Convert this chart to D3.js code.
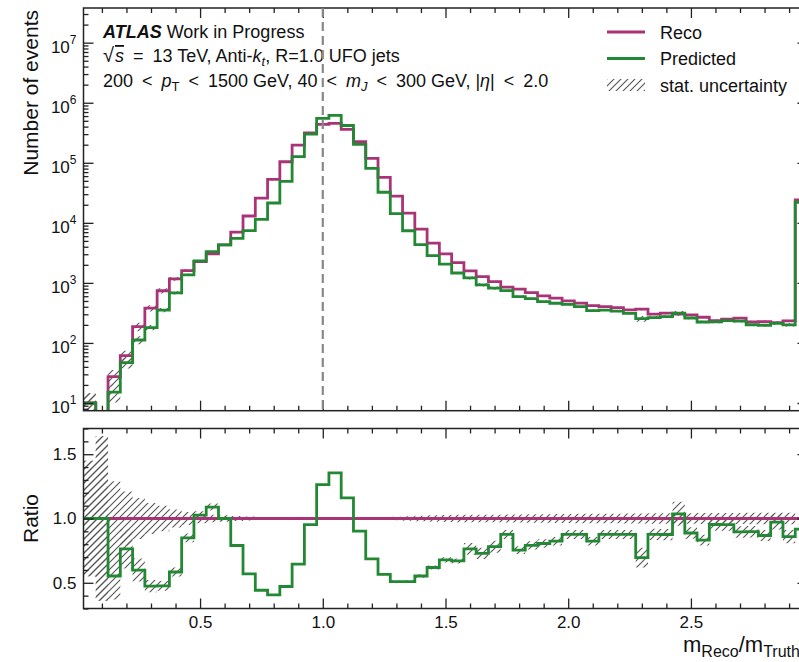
<!DOCTYPE html>
<html>
<head>
<meta charset="utf-8">
<title></title>
<style>
  body { margin: 0; background: #fff; }
  svg { display: block; font-family: "Liberation Sans", Arial, sans-serif; }
</style>
</head>
<body>
<div id="chart"></div>
<script src="https://cdn.jsdelivr.net/npm/d3@7"></script>
<script>
// bin centres of m_reco / m_truth, width 0.05 (last bin holds the overflow)
const binCentres = [0.05, 0.10, 0.15, 0.20, 0.25, 0.30, 0.35, 0.40, 0.45, 0.50,
    0.55, 0.60, 0.65, 0.70, 0.75, 0.80, 0.85, 0.90, 0.95, 1.00,
    1.05, 1.10, 1.15, 1.20, 1.25, 1.30, 1.35, 1.40, 1.45, 1.50,
    1.55, 1.60, 1.65, 1.70, 1.75, 1.80, 1.85, 1.90, 1.95, 2.00,
    2.05, 2.10, 2.15, 2.20, 2.25, 2.30, 2.35, 2.40, 2.45, 2.50,
    2.55, 2.60, 2.65, 2.70, 2.75, 2.80, 2.85, 2.90, 2.95]
const binWidth = 0.05

// number of events per bin
const reco = [10, 4, 27.5, 61.5, 187, 380, 740, 1170, 1600, 2265,
    3040, 4300, 7000, 13000, 25800, 52800, 104000, 197000, 316000, 436000,
    454000, 360000, 224000, 118000, 57100, 27900, 14500, 7850, 4590, 3040,
    2180, 1585, 1275, 1050, 848, 785, 689, 607, 556, 501,
    459, 419, 403, 387, 355, 365, 301, 313, 301, 293,
    268, 235, 248, 258, 224, 227, 218, 233, 24000]
const predicted = [10, 4, 15.2, 47, 112, 180, 352, 683, 1360, 2325,
    3310, 4300, 5530, 7400, 11400, 21400, 49000, 127000, 301000, 551000,
    615000, 418000, 202000, 81000, 32300, 14200, 7380, 4340, 2840, 2060,
    1460, 1210, 930, 820, 743, 592, 545, 489, 458, 439,
    402, 345, 353, 339, 311, 254, 264, 274, 312, 260,
    223, 224, 236, 231, 201, 197, 212, 200, 22000]

// relative stat. uncertainties
const recoErr = [0.45, 0.64, 0.29, 0.21, 0.16, 0.12, 0.10, 0.07, 0.05, 0.036,
    0.03, 0.026, 0.02, 0.015, 0.01, 0.008, 0.006, 0.005, 0.005, 0.005,
    0.005, 0.005, 0.006, 0.008, 0.01, 0.014, 0.018, 0.022, 0.025, 0.028,
    0.03, 0.03, 0.03, 0.03, 0.032, 0.032, 0.034, 0.034, 0.035, 0.035,
    0.036, 0.036, 0.037, 0.037, 0.038, 0.038, 0.04, 0.04, 0.04, 0.04,
    0.042, 0.042, 0.042, 0.043, 0.044, 0.044, 0.045, 0.045, 0.008]
const predErr = [0.45, 0.64, 0.33, 0.2, 0.15, 0.1, 0.08, 0.06, 0.04, 0.03,
    0.025, 0.02, 0.015, 0.012, 0.01, 0.01, 0.008, 0.006, 0.005, 0.005,
    0.005, 0.005, 0.006, 0.01, 0.012, 0.016, 0.02, 0.025, 0.025, 0.03,
    0.03, 0.06, 0.06, 0.06, 0.04, 0.04, 0.04, 0.04, 0.04, 0.04,
    0.04, 0.04, 0.04, 0.04, 0.04, 0.11, 0.05, 0.05, 0.09, 0.05,
    0.05, 0.05, 0.05, 0.05, 0.05, 0.05, 0.06, 0.06, 0.01]

const xTicks = [0.5, 1.0, 1.5, 2.0, 2.5]
const ratioTicks = [0.5, 1.0, 1.5]

const recoColor = '#AA3377', predColor = '#228833'

const width = 799, height = 662
const svg = d3.select('#chart').append('svg')
    .attr('width', width)
    .attr('height', height)

// scales
const x = d3.scaleLinear().domain([0.025, 2.975]).range([83.5, 807.5])
const y = d3.scaleLog().domain([7.44, 3.78e7]).range([410.7, 8])
const yr = d3.scaleLinear().domain([0.3, 1.7]).range([608.5, 428.5])

const edges = binCentres.map(c => c - binWidth / 2).concat(binCentres[binCentres.length - 1] + binWidth / 2)
const ratio = predicted.map((v, i) => v / reco[i])

// hatch pattern for stat. uncertainty
const defs = svg.append('defs')
defs.append('pattern')
    .attr('id', 'hatch')
    .attr('patternUnits', 'userSpaceOnUse')
    .attr('width', 7).attr('height', 7)
  .append('path')
    .attr('d', 'M-1,1 l2,-2 M0,7 l7,-7 M6,8 l2,-2')
    .attr('stroke', '#555').attr('stroke-width', 1.1)
defs.append('clipPath').attr('id', 'clipTop')
  .append('rect').attr('x', 83.5).attr('y', 8).attr('width', 724).attr('height', 402.7)
defs.append('clipPath').attr('id', 'clipRatio')
  .append('rect').attr('x', 83.5).attr('y', 428.5).attr('width', 724).attr('height', 180)

// step helpers
function stepLine(values, ys) {
    const pts = values.map((v, i) => [edges[i], v]).concat([[edges[values.length], values[values.length - 1]]])
    return d3.line().x(d => x(d[0])).y(d => ys(d[1])).curve(d3.curveStepAfter)(pts)
}
function stepBand(lo, hi, ys) {
    const pts = lo.map((v, i) => [edges[i], v, hi[i]]).concat([[edges[lo.length], lo[lo.length - 1], hi[hi.length - 1]]])
    return d3.area().x(d => x(d[0])).y0(d => ys(d[1])).y1(d => ys(d[2])).curve(d3.curveStepAfter)(pts)
}

// top panel
const topPanel = svg.append('g').attr('clip-path', 'url(#clipTop)')
topPanel.append('path').attr('d', stepBand(reco.map((v, i) => v * (1 - recoErr[i])), reco.map((v, i) => v * (1 + recoErr[i])), y))
    .attr('fill', 'url(#hatch)')
topPanel.append('path').attr('d', stepBand(predicted.map((v, i) => v * (1 - predErr[i])), predicted.map((v, i) => v * (1 + predErr[i])), y))
    .attr('fill', 'url(#hatch)')
topPanel.append('path').attr('d', stepLine(reco, y))
    .attr('fill', 'none').attr('stroke', recoColor).attr('stroke-width', 2.8)
topPanel.append('path').attr('d', stepLine(predicted, y))
    .attr('fill', 'none').attr('stroke', predColor).attr('stroke-width', 2.8)

// ratio panel
const ratioPanel = svg.append('g').attr('clip-path', 'url(#clipRatio)')
ratioPanel.append('path').attr('d', stepBand(recoErr.map(e => 1 - e), recoErr.map(e => 1 + e), yr))
    .attr('fill', 'url(#hatch)')
ratioPanel.append('path').attr('d', stepBand(ratio.map((r, i) => r * (1 - predErr[i])), ratio.map((r, i) => r * (1 + predErr[i])), yr))
    .attr('fill', 'url(#hatch)')
ratioPanel.append('line')
    .attr('x1', x.range()[0]).attr('x2', x.range()[1])
    .attr('y1', yr(1)).attr('y2', yr(1))
    .attr('stroke', recoColor).attr('stroke-width', 2.8)
ratioPanel.append('path').attr('d', stepLine(ratio, yr))
    .attr('fill', 'none').attr('stroke', predColor).attr('stroke-width', 2.8)

// axes: ticks point inwards on all four sides
function addAxis(axisFn, scale, values, size, fmt, transform) {
    const a = axisFn(scale).tickValues(values).tickSize(-size).tickSizeOuter(0).tickPadding(7)
    a.tickFormat(fmt || (() => ''))
    const g = svg.append('g').attr('transform', transform).call(a)
    g.attr('font-family', null).attr('font-size', 17)
    g.select('.domain').remove()
    g.selectAll('line').attr('stroke', '#222').attr('stroke-width', 1.3)
    g.selectAll('text').attr('fill', '#111')
    return g
}

const isMajor = d => Math.abs(Math.log10(d) - Math.round(Math.log10(d))) < 1e-9
const logMajor = y.ticks().filter(isMajor)
const logMinor = y.ticks().filter(d => !isMajor(d))
const xMinor = x.ticks(30).filter(d => !xTicks.some(t => Math.abs(t - d) < 1e-9))
const rMinor = yr.ticks(14).filter(d => !ratioTicks.some(t => Math.abs(t - d) < 1e-9))

// top panel axes
const yAxis = addAxis(d3.axisLeft, y, logMajor, 10, d => '10', 'translate(83.5,0)')
yAxis.selectAll('text').attr('dy', '0.55em')
    .append('tspan').attr('dy', '-0.7em').attr('font-size', 12).text(d => Math.round(Math.log10(d)))
addAxis(d3.axisLeft, y, logMinor, 5, null, 'translate(83.5,0)')
addAxis(d3.axisRight, y, logMajor, 10, null, 'translate(807.5,0)')
addAxis(d3.axisRight, y, logMinor, 5, null, 'translate(807.5,0)')
addAxis(d3.axisTop, x, xTicks, 10, null, 'translate(0,8)')
addAxis(d3.axisTop, x, xMinor, 5, null, 'translate(0,8)')
addAxis(d3.axisBottom, x, xTicks, 10, null, 'translate(0,410.7)')
addAxis(d3.axisBottom, x, xMinor, 5, null, 'translate(0,410.7)')

// ratio panel axes
addAxis(d3.axisLeft, yr, ratioTicks, 10, d3.format('.1f'), 'translate(83.5,0)')
addAxis(d3.axisLeft, yr, rMinor, 5, null, 'translate(83.5,0)')
addAxis(d3.axisRight, yr, ratioTicks, 10, null, 'translate(807.5,0)')
addAxis(d3.axisRight, yr, rMinor, 5, null, 'translate(807.5,0)')
addAxis(d3.axisTop, x, xTicks, 10, null, 'translate(0,428.5)')
addAxis(d3.axisTop, x, xMinor, 5, null, 'translate(0,428.5)')
addAxis(d3.axisBottom, x, xTicks, 10, d3.format('.1f'), 'translate(0,608.5)')
addAxis(d3.axisBottom, x, xMinor, 5, null, 'translate(0,608.5)')

// frames
svg.append('rect').attr('x', 83.5).attr('y', 8).attr('width', 724).attr('height', 402.7)
    .attr('fill', 'none').attr('stroke', '#222').attr('stroke-width', 1.5)
svg.append('rect').attr('x', 83.5).attr('y', 428.5).attr('width', 724).attr('height', 180)
    .attr('fill', 'none').attr('stroke', '#222').attr('stroke-width', 1.5)

// axis titles
svg.append('text')
    .attr('transform', 'translate(38,10) rotate(-90)')
    .attr('text-anchor', 'end').attr('font-size', 21).attr('fill', '#111')
    .text('Number of events')
svg.append('text')
    .attr('transform', `translate(38,${yr(1)}) rotate(-90)`)
    .attr('text-anchor', 'middle').attr('font-size', 21).attr('fill', '#111')
    .text('Ratio')
const xl = svg.append('text').attr('x', 683).attr('y', 652).attr('font-size', 22).attr('fill', '#111')
xl.append('tspan').text('m')
xl.append('tspan').attr('dy', 5).attr('font-size', 16).text('Reco')
xl.append('tspan').attr('dy', -5).text('/m')
xl.append('tspan').attr('dy', 5).attr('font-size', 16).text('Truth')

// ATLAS label (math spacing approximated with en spaces)
const sp = '\u2002'
const info = svg.append('g').attr('font-size', 18).attr('fill', '#111')
const l1 = info.append('text').attr('x', 103).attr('y', 38)
l1.append('tspan').attr('font-weight', 'bold').attr('font-style', 'italic').text('ATLAS')
l1.append('tspan').text(' Work in Progress')

const l2 = info.append('text').attr('x', 103).attr('y', 62)
l2.append('tspan').attr('font-size', 20).text('\u221A')
l2.append('tspan').attr('font-style', 'italic').attr('dx', 1).style('text-decoration', 'overline').text('s')
l2.append('tspan').text(`${sp}=${sp}13 TeV, Anti-`)
l2.append('tspan').attr('font-style', 'italic').text('k')
l2.append('tspan').attr('font-style', 'italic').attr('font-size', 13).attr('dy', 4).text('t')
l2.append('tspan').attr('dy', -4).text(', R=1.0 UFO jets')

const l3 = info.append('text').attr('x', 103).attr('y', 87)
l3.append('tspan').text(`200${sp}<${sp}`)
l3.append('tspan').attr('font-style', 'italic').text('p')
l3.append('tspan').attr('font-size', 13).attr('dy', 4).text('T')
l3.append('tspan').attr('dy', -4).text(`${sp}<${sp}1500 GeV, 40${sp}<${sp}`)
l3.append('tspan').attr('font-style', 'italic').text('m')
l3.append('tspan').attr('font-style', 'italic').attr('font-size', 13).attr('dy', 4).text('J')
l3.append('tspan').attr('dy', -4).text(`${sp}<${sp}300 GeV, |`)
l3.append('tspan').attr('font-style', 'italic').text('\u03B7')
l3.append('tspan').text(`|${sp}<${sp}2.0`)

// reference line at 1
svg.append('line')
    .attr('x1', x(1)).attr('x2', x(1))
    .attr('y1', 8).attr('y2', 410.7)
    .attr('stroke', '#888').attr('stroke-width', 2.2).attr('stroke-dasharray', '9,5')

// legend
const legend = svg.append('g').attr('font-size', 18).attr('fill', '#111')
const items = [
    { label: 'Reco', color: recoColor },
    { label: 'Predicted', color: predColor },
    { label: 'stat. uncertainty', hatch: true }
]
items.forEach((d, i) => {
    const cy = 32 + i * 26.5
    if (d.hatch) {
        legend.append('rect').attr('x', 607).attr('y', cy - 6).attr('width', 38).attr('height', 12)
            .attr('fill', 'url(#hatch)')
    } else {
        legend.append('line').attr('x1', 607).attr('x2', 645).attr('y1', cy).attr('y2', cy)
            .attr('stroke', d.color).attr('stroke-width', 2.8)
    }
    legend.append('text').attr('x', 660).attr('y', cy + 6.5).text(d.label)
})
</script>
</body>
</html>
